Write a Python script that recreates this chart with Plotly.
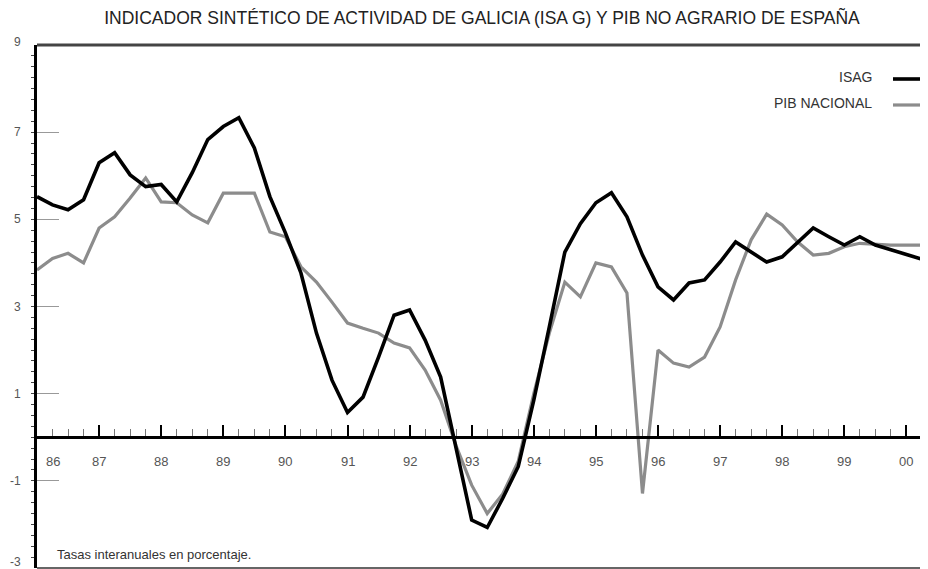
import plotly.graph_objects as go

# Quarterly periods (1986 Q1 ... 2000 Q3), expressed in years
periods = [1986.0, 1986.25, 1986.5, 1986.75, 1987.0, 1987.25, 1987.5, 1987.75,
           1988.0, 1988.25, 1988.5, 1988.75, 1989.0, 1989.25, 1989.5, 1989.75,
           1990.0, 1990.25, 1990.5, 1990.75, 1991.0, 1991.25, 1991.5, 1991.75,
           1992.0, 1992.25, 1992.5, 1992.75, 1993.0, 1993.25, 1993.5, 1993.75,
           1994.0, 1994.25, 1994.5, 1994.75, 1995.0, 1995.25, 1995.5, 1995.75,
           1996.0, 1996.25, 1996.5, 1996.75, 1997.0, 1997.25, 1997.5, 1997.75,
           1998.0, 1998.25, 1998.5, 1998.75, 1999.0, 1999.25, 1999.5, 1999.75,
           2000.0, 2000.25, 2000.5]

isag = [5.52, 5.33, 5.22, 5.45, 6.30, 6.53, 6.02, 5.75,
        5.80, 5.40, 6.07, 6.83, 7.13, 7.33, 6.64, 5.52,
        4.69, 3.77, 2.39, 1.31, 0.57, 0.92, 1.84, 2.80,
        2.92, 2.23, 1.38, -0.30, -1.90, -2.07, -1.40, -0.67,
        0.85, 2.53, 4.25, 4.90, 5.38, 5.61, 5.06, 4.18,
        3.45, 3.15, 3.54, 3.61, 4.02, 4.48, 4.25, 4.02,
        4.14, 4.48, 4.80, 4.60, 4.41, 4.60, 4.41, 4.30,
        4.20, 4.10, 3.98]

pib_nacional = [3.84, 4.10, 4.22, 4.00, 4.80, 5.06, 5.49, 5.95,
                5.40, 5.38, 5.10, 4.92, 5.60, 5.60, 5.60, 4.71,
                4.60, 3.91, 3.56, 3.10, 2.62, 2.50, 2.39, 2.16,
                2.05, 1.54, 0.85, -0.20, -1.10, -1.75, -1.30, -0.55,
                1.00, 2.39, 3.56, 3.22, 4.00, 3.91, 3.31, -1.29,
                2.00, 1.70, 1.61, 1.84, 2.53, 3.61, 4.53, 5.12,
                4.87, 4.48, 4.18, 4.22, 4.37, 4.45, 4.43, 4.41,
                4.41, 4.41]

year_ticks = [1986, 1987, 1988, 1989, 1990, 1991, 1992, 1993,
              1994, 1995, 1996, 1997, 1998, 1999, 2000]
year_labels = ["86", "87", "88", "89", "90", "91", "92", "93",
               "94", "95", "96", "97", "98", "99", "00"]
y_ticks = [-3, -1, 1, 3, 5, 7, 9]
y_labels = ["-3", "-1", "1", "3", "5", "7", "9"]

FONT = "Liberation Sans, Arial, sans-serif"
GRAY = "#8c8c8c"

W, H = 928, 569
OFF = 8  # page body margin: figure is drawn 8px right/down in the page
L, T = 37 - OFF, 45 - OFF
B = H - (568 - OFF)
PW, PH = W - L, H - T - B


def px(xpage):
    return (xpage - OFF - L) / PW


def py(ypage):
    return 1 - (ypage - OFF - T) / PH


fig = go.Figure()
fig.add_trace(go.Scatter(x=periods[:len(pib_nacional)], y=pib_nacional, mode="lines",
                         name="PIB NACIONAL", line=dict(color=GRAY, width=3.2),
                         showlegend=False))
fig.add_trace(go.Scatter(x=periods[:len(isag)], y=isag, mode="lines",
                         name="ISAG", line=dict(color="black", width=3.6),
                         showlegend=False))

# x tick labels (first one nudged right of the vertical axis)
for yr, lab in zip(year_ticks, year_labels):
    xpos = yr + 0.25 if yr == year_ticks[0] else yr
    fig.add_annotation(x=xpos, y=0, xref="x", yref="y", text=lab, showarrow=False,
                       yshift=-24, font=dict(family=FONT, size=13, color="#555"))

# y tick labels (end labels nudged inwards so they stay on the page)
for v, lab in zip(y_ticks, y_labels):
    shift = 6 if v == y_ticks[0] else (3 if v == y_ticks[-1] else 0)
    fig.add_annotation(xref="paper", yref="y", x=px(23), y=v, yshift=shift,
                       xanchor="right", yanchor="middle", text=lab, showarrow=False,
                       font=dict(family=FONT, size=12, color="#555"))

# legend (text then sample line on the right)
legend_items = [("ISAG", "black", 3.6), ("PIB NACIONAL", GRAY, 3.2)]
for i, (name, col, w) in enumerate(legend_items):
    ypage = 77 + i * 26
    fig.add_annotation(xref="paper", yref="paper", x=px(874), y=py(ypage),
                       xanchor="right", yanchor="middle", text=name, showarrow=False,
                       font=dict(family=FONT, size=14, color="#333"))
    fig.add_shape(type="line", xref="paper", yref="paper",
                  x0=px(893), x1=px(922), y0=py(ypage + 2), y1=py(ypage + 2),
                  line=dict(color=col, width=w))

# note
fig.add_annotation(xref="paper", yref="paper", x=px(55), y=py(554),
                   xanchor="left", yanchor="middle", showarrow=False,
                   text="Tasas interanuales en porcentaje.",
                   font=dict(family=FONT, size=13, color="#333"))

# frame: top and bottom lines
fig.add_shape(type="line", xref="paper", yref="paper", x0=0, x1=1, y0=1, y1=1,
              line=dict(color="#444", width=3))
fig.add_shape(type="line", xref="paper", yref="paper", x0=0, x1=1, y0=0, y1=0,
              line=dict(color="#333", width=1.5))

fig.update_layout(
    width=W, height=H,
    margin=dict(l=L, r=0, t=T, b=B, autoexpand=False),
    paper_bgcolor="white", plot_bgcolor="white",
    title=dict(text="INDICADOR SINTÉTICO DE ACTIVIDAD DE GALICIA (ISA G) Y PIB NO AGRARIO DE ESPAÑA",
               x=(482 - OFF) / W, xanchor="center", y=1 - (18 - OFF) / H,
               yanchor="middle", yref="container", automargin=False,
               font=dict(family=FONT, size=17.5, color="#222")),
    xaxis=dict(range=[1986, 1986 + PW / 62.1], anchor="free", position=0.25,
               automargin=False,
               showgrid=False, zeroline=False, showline=True, linecolor="black",
               linewidth=3, tickvals=year_ticks, showticklabels=False,
               ticks="inside", ticklen=11, tickwidth=2, tickcolor="black",
               minor=dict(dtick=0.25, tick0=1986, ticks="inside", ticklen=7,
                          tickwidth=1, tickcolor="#777")),
    yaxis=dict(range=[-3, 9], showgrid=False, zeroline=False, showline=True,
               automargin=False,
               linecolor="black", linewidth=3, tickvals=y_ticks,
               showticklabels=False,
               ticks="inside", ticklen=22, tickwidth=1, tickcolor="#999",
               minor=dict(dtick=0.25, ticks="outside", ticklen=3, tickwidth=1,
                          tickcolor="#444")),
)

fig.write_html("out.html")
